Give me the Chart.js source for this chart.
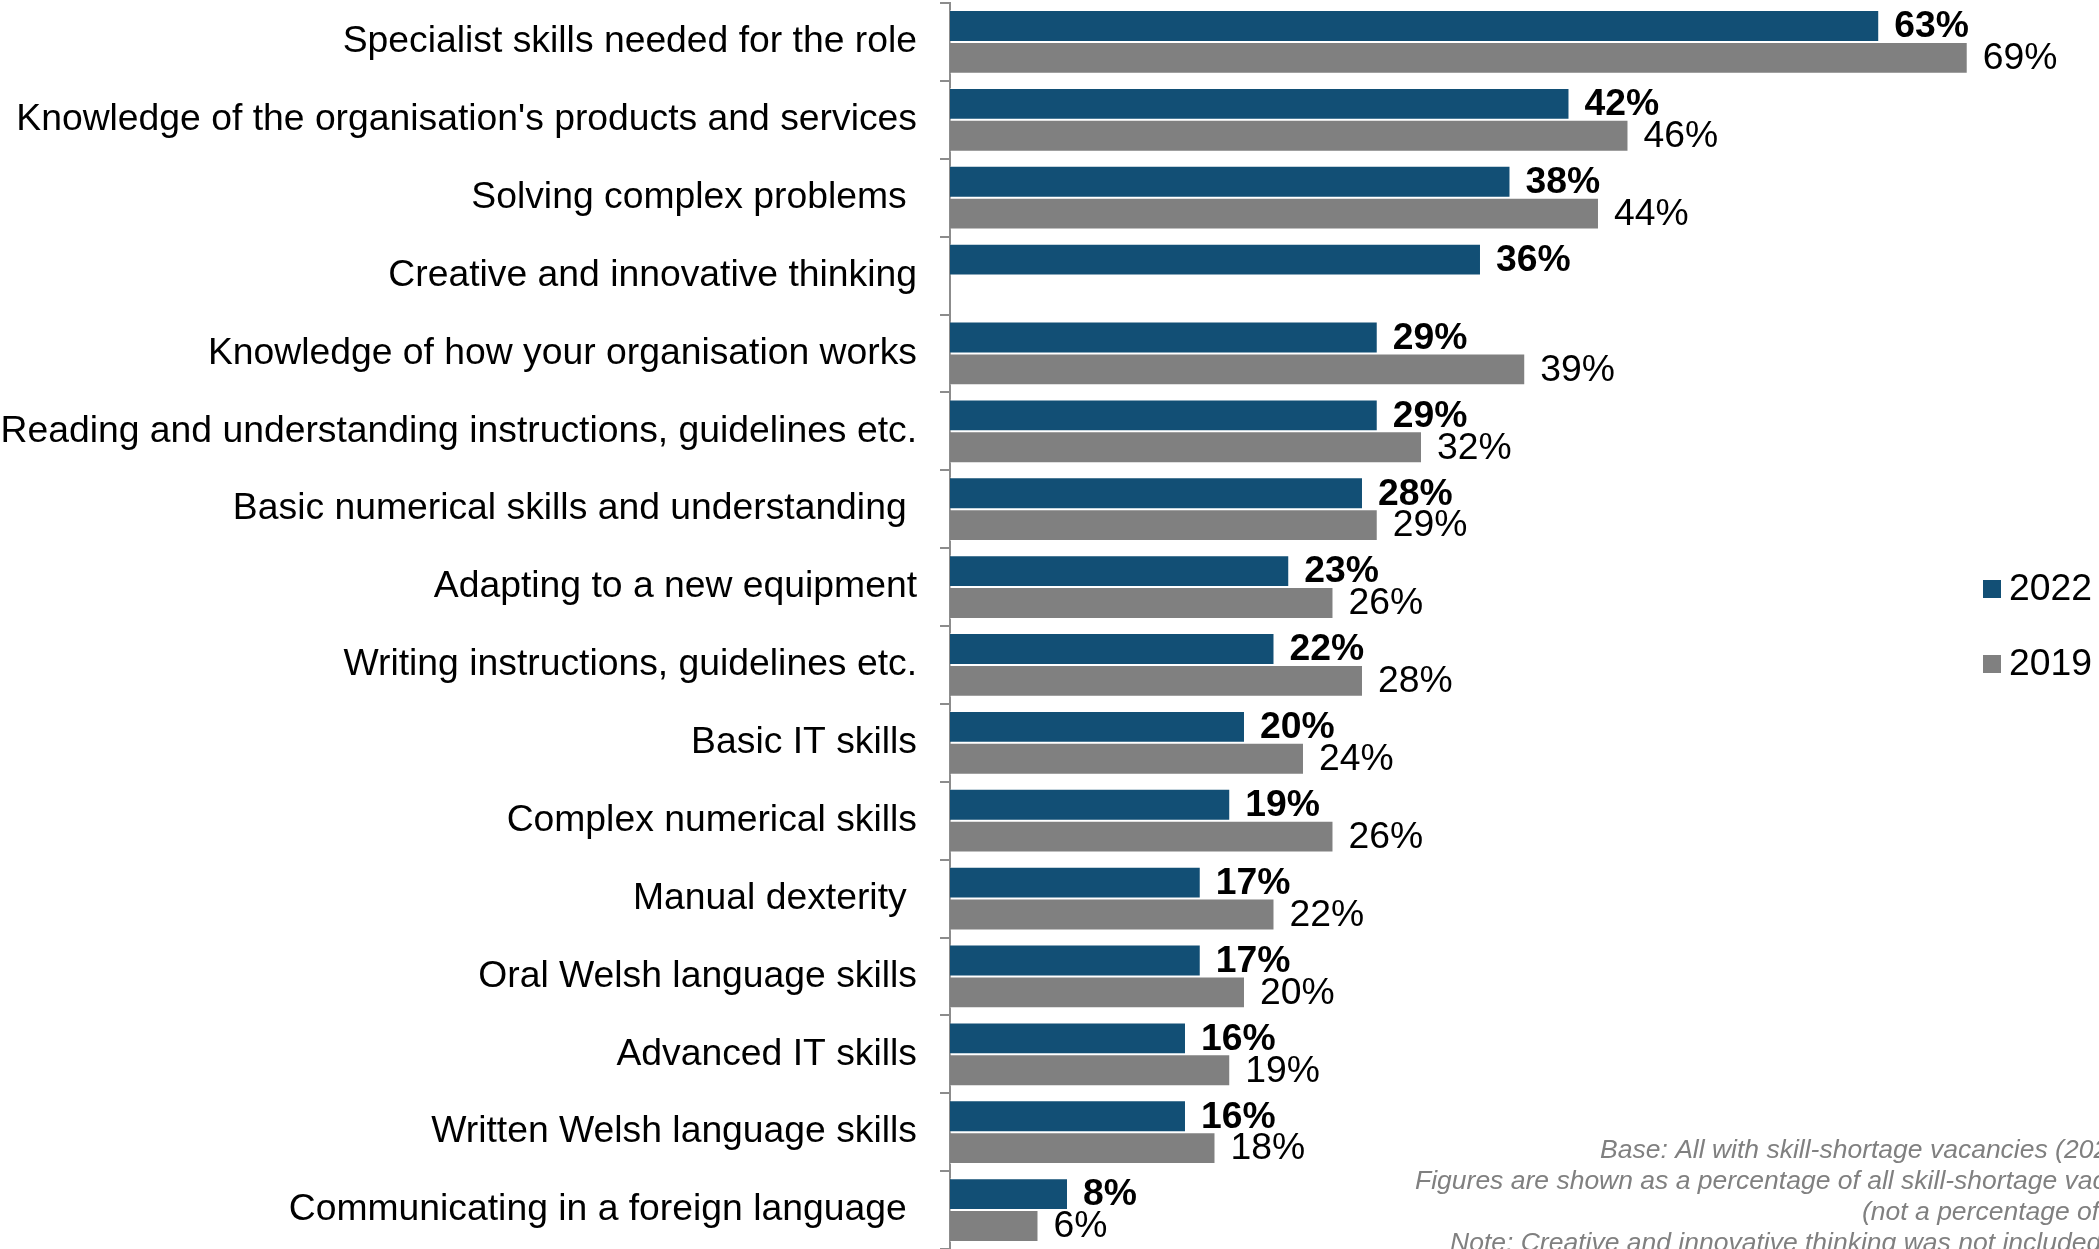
<!DOCTYPE html>
<html>
<head>
<meta charset="utf-8">
<title>Skills lacking among applicants</title>
<script src="https://cdn.jsdelivr.net/npm/chart.js@4.4.1/dist/chart.umd.min.js"></script>
<style>
  html, body { margin: 0; padding: 0; background: #fff; overflow: hidden; }
  #wrap { position: relative; width: 2099px; height: 1249px; }
</style>
</head>
<body>
<div id="wrap"><canvas id="skills"></canvas></div>
<script>
// skills (trailing spaces kept as in the source sheet)
const skills = [
  'Specialist skills needed for the role',
  "Knowledge of the organisation's products and services",
  'Solving complex problems ',
  'Creative and innovative thinking',
  'Knowledge of how your organisation works',
  'Reading and understanding instructions, guidelines etc.',
  'Basic numerical skills and understanding ',
  'Adapting to a new equipment',
  'Writing instructions, guidelines etc.',
  'Basic IT skills',
  'Complex numerical skills',
  'Manual dexterity ',
  'Oral Welsh language skills',
  'Advanced IT skills',
  'Written Welsh language skills',
  'Communicating in a foreign language '
];
const values2022 = [63, 42, 38, 36, 29, 29, 28, 23, 22, 20, 19, 17, 17, 16, 16, 8];
// creative thinking was not asked in 2019
const values2019 = [69, 46, 44, null, 39, 32, 29, 26, 28, 24, 26, 22, 20, 19, 18, 6];
const seriesNames = ['2022', '2019'];
const seriesColours = ['#124f75', '#808080'];
const notes = [
  'Base: All with skill-shortage vacancies (2022 and 2019)',
  'Figures are shown as a percentage of all skill-shortage vacancies',
  '(not a percentage of all employers)',
  'Note: Creative and innovative thinking was not included in 2019'
];

const FONT = '"Liberation Sans", Arial, sans-serif';
const SIZE = 37.3;

// percentage labels at the end of each bar
const barLabels = {
  id: 'barLabels',
  afterDatasetsDraw(chart) {
    const ctx = chart.ctx;
    ctx.save();
    ctx.textAlign = 'left';
    ctx.textBaseline = 'middle';
    ctx.fillStyle = '#000';
    chart.data.datasets.forEach((ds, i) => {
      ctx.font = (i === 0 ? 'bold ' : '') + SIZE + 'px ' + FONT;
      chart.getDatasetMeta(i).data.forEach((bar, j) => {
        const v = ds.data[j];
        if (v === null) return;
        ctx.fillText(v + '%', bar.x + 15, bar.y + 1);
      });
    });
    ctx.restore();
  }
};

// legend on the right and the base notes in the bottom corner
const sideText = {
  id: 'sideText',
  afterDraw(chart) {
    const ctx = chart.ctx;
    ctx.save();
    ctx.textBaseline = 'middle';
    ctx.textAlign = 'left';
    ctx.font = SIZE + 'px ' + FONT;
    [589, 664].forEach((y, i) => {
      ctx.fillStyle = seriesColours[i];
      ctx.fillRect(1983, y - 9, 18, 18);
      ctx.fillStyle = '#000';
      ctx.fillText(seriesNames[i], 2009, y + 1);
    });

    ctx.font = 'italic 26.5px ' + FONT;
    ctx.fillStyle = '#808080';
    ctx.textBaseline = 'alphabetic';
    const starts = [1600, 1415, 1862, 1450];
    notes.forEach((t, i) => ctx.fillText(t, starts[i], 1158 + i * 31));
    ctx.restore();
  }
};

new Chart(document.getElementById('skills'), {
  type: 'bar',
  data: {
    labels: skills,
    datasets: seriesNames.map((name, i) => ({
      label: name,
      data: i === 0 ? values2022 : values2019,
      backgroundColor: seriesColours[i],
      borderColor: 'rgba(255,255,255,0.45)',
      borderWidth: { top: 1, bottom: 1, right: 1, left: 0 },
      borderSkipped: 'start',
      categoryPercentage: 0.82,
      barPercentage: 1.0
    }))
  },
  options: {
    indexAxis: 'y',
    responsive: true,
    maintainAspectRatio: false,
    devicePixelRatio: 1,
    animation: false,
    layout: { padding: { top: 3, right: 0, bottom: 0, left: 0 } },
    plugins: {
      legend: { display: false },
      tooltip: { enabled: false }
    },
    scales: {
      x: {
        display: false,
        min: 0,
        max: 77.9
      },
      y: {
        afterFit(scale) {
          // fixed label column, and no extra room above/below the bars
          scale.width = 950;
          scale.paddingTop = 0;
          scale.paddingBottom = 0;
        },
        border: { display: true, color: '#8c8c8c', width: 2 },
        grid: {
          offset: true,
          drawOnChartArea: false,
          drawTicks: true,
          tickLength: 10,
          color: '#8c8c8c',
          lineWidth: 2
        },
        ticks: {
          autoSkip: false,
          padding: 23,
          color: '#000',
          font: { family: FONT, size: SIZE }
        }
      }
    }
  },
  plugins: [barLabels, sideText]
});
</script>
</body>
</html>
